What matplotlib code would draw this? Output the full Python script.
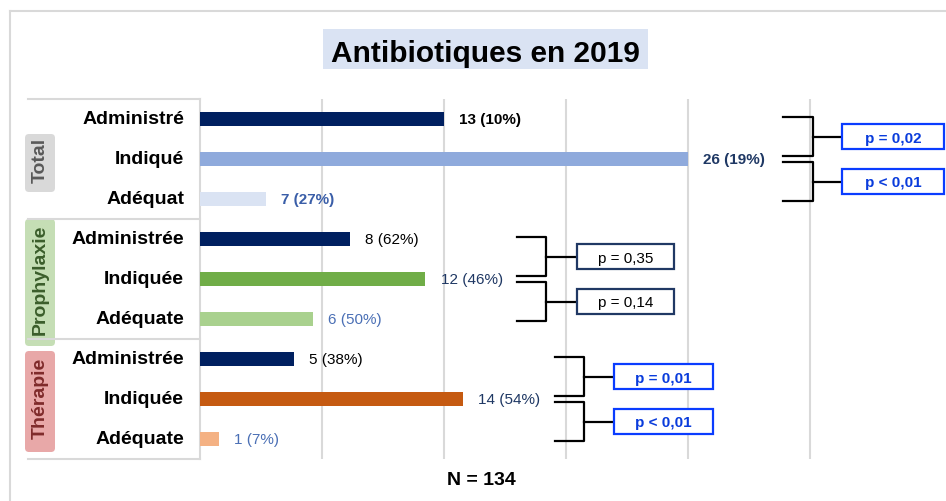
import numpy as np
import matplotlib
matplotlib.use("Agg")
import matplotlib.pyplot as plt
from matplotlib.patches import Rectangle, FancyBboxPatch

plt.rcParams['font.family'] = ['Liberation Sans', 'DejaVu Sans']

# --- Données ---
groupes = ["Total", "Prophylaxie", "Thérapie"]
categories = ["Administré", "Indiqué", "Adéquat",
              "Administrée", "Indiquée", "Adéquate",
              "Administrée", "Indiquée", "Adéquate"]
# longueur des barres telle que dessinée (la barre "Adéquat" du total est plus courte que son étiquette)
longueurs = [13, 26, 3.5, 8, 12, 6, 5, 14, 1]
etiquettes = ["13 (10%)", "26 (19%)", "7 (27%)",
              "8 (62%)", "12 (46%)", "6 (50%)",
              "5 (38%)", "14 (54%)", "1 (7%)"]
p_valeurs = [["p = 0,02", "p < 0,01"],
             ["p = 0,35", "p = 0,14"],
             ["p = 0,01", "p < 0,01"]]
titre = "Antibiotiques en 2019"
effectif = "N = 134"

# --- Styles ---
couleurs_barres = ["#002060", "#8faadc", "#dae3f3",
                   "#002060", "#70ad47", "#a9d18e",
                   "#002060", "#c55a11", "#f4b183"]
couleurs_texte = ["black", "#1f3864", "#3a5ea8",
                  "black", "#1f3864", "#4a6fb5",
                  "black", "#1f3864", "#4a6fb5"]
gras = [True, True, True, False, False, False, False, False, False]
groupe_fond = ["#d9d9d9", "#c5deb5", "#e8a8a8"]
groupe_texte = ["#595959", "#3b5e2b", "#7f2b2b"]
groupe_boite = [(135, 58), (220, 127), (352, 101)]   # (haut, hauteur) en pixels
# crochets : (x gauche, x vertical, x boîte, largeur boîte) en unités de l'axe
crochets = [(31.06, 32.66, 34.2, 5.43),
            (16.89, 18.43, 20.09, 5.17),
            (18.91, 20.46, 22.06, 5.27)]
style_p = [("#0a3cff", "#0a3cdc", "bold"),
           ("#203864", "black", "normal"),
           ("#0a3cff", "#0a3cdc", "bold")]
gris = "#d9d9d9"

W, H = 946, 502
fig = plt.figure(figsize=(W / 100, H / 100), dpi=100)

# calque en pixels pour le cadre, le titre et le tableau de gauche
fond = fig.add_axes([0, 0, 1, 1], zorder=0)
fond.set_xlim(0, W)
fond.set_ylim(H, 0)
fond.axis('off')

fond.plot([10, W], [12, 12], color=gris, lw=1.5)
fond.plot([10, 10], [12, H], color=gris, lw=1.5)

fond.add_patch(Rectangle((323, 30), 325, 40, facecolor="#dae3f3", edgecolor="none"))
fond.text(485, 62, titre, ha='center', va='baseline', fontsize=21.5, fontweight='bold')

for yl in [100, 220, 340, 460]:
    fond.plot([28, 200], [yl, yl], color=gris, lw=1.5)
fond.plot([200, 200], [100, 460], color=gris, lw=1.5)

for nom, (haut, h), fc, tc in zip(groupes, groupe_boite, groupe_fond, groupe_texte):
    fond.add_patch(FancyBboxPatch((27, haut + 2), 26, h - 4,
                                  boxstyle="round,pad=2,rounding_size=4",
                                  facecolor=fc, edgecolor="none"))
    fond.text(40, haut + h / 2 - 4, nom, rotation=90, ha='center', va='center',
              fontsize=14, fontweight='bold', color=tc)

fond.text(481, 481, effectif, ha='center', va='center', fontsize=14, fontweight='bold')

# --- Graphique principal ---
ax = fig.add_axes([200 / W, 42 / H, 746 / W, 360 / H], zorder=1)
ax.patch.set_alpha(0)
ax.set_xlim(0, 746 / 18.77)
ax.set_ylim(8.5, -0.5)
ax.axis('off')

for xg in np.arange(6.5, 33, 6.5):
    ax.axvline(xg, color=gris, lw=1.5, zorder=0)

y = np.arange(len(categories))
ax.barh(y, longueurs, height=0.37, color=couleurs_barres, zorder=2)

for i in range(len(categories)):
    ax.annotate(categories[i], xy=(0, y[i]), xytext=(-11.5, 0), textcoords='offset points',
                ha='right', va='center', fontsize=14, fontweight='bold')
    ax.annotate(etiquettes[i], xy=(longueurs[i], y[i]), xytext=(11, 0),
                textcoords='offset points', ha='left', va='center', fontsize=11,
                fontweight='bold' if gras[i] else 'normal', color=couleurs_texte[i])

# crochets de comparaison et p-valeurs
for g in range(3):
    r0, r1, r2 = 3 * g, 3 * g + 1, 3 * g + 2
    xg, xv, xb, lb = crochets[g]
    bord, coul, poids = style_p[g]
    segments = [(r0 - 0.04, r1 - 0.07), (r1 + 0.07, r2 + 0.06)]
    for (ya, yb), txt in zip(segments, p_valeurs[g]):
        ax.plot([xg, xv, xv, xg], [ya, ya, yb, yb], color='black', lw=1.6,
                clip_on=False, zorder=3)
        ym = (ya + yb) / 2
        ax.plot([xv, xb], [ym, ym], color='black', lw=1.6, clip_on=False, zorder=3)
        ax.add_patch(Rectangle((xb, ym - 0.31), lb, 0.62, facecolor='white',
                               edgecolor=bord, lw=1.6, clip_on=False, zorder=4))
        ax.text(xb + lb / 2, ym + 0.02, txt, ha='center', va='center', fontsize=11,
                fontweight=poids, color=coul, zorder=5)

fig.savefig("out.png", dpi=100)
